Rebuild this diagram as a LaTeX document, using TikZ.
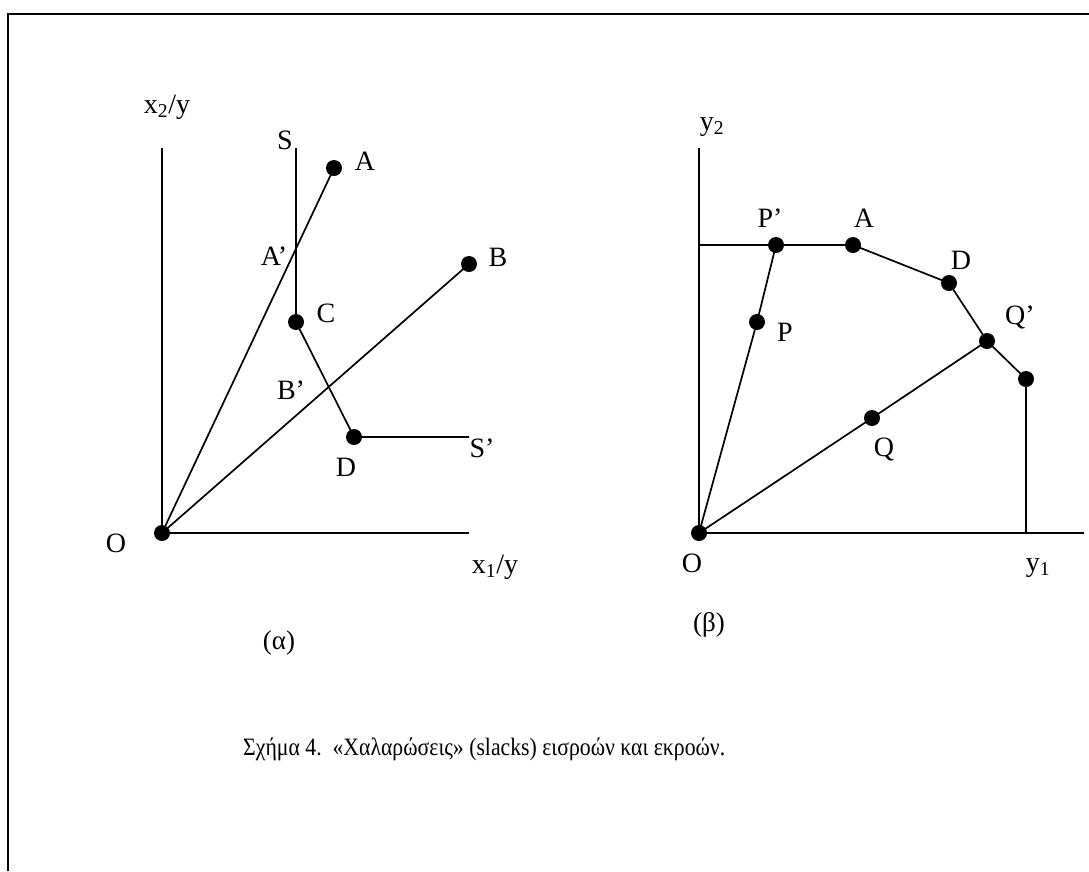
\documentclass[tikz,border=0pt]{standalone}
\usepackage{fontspec}
\usepackage{graphicx}
\setmainfont{Liberation Serif}
\begin{document}
\begin{tikzpicture}[x=1pt,y=-1pt,
  ln/.style={line width=1.7pt},
  dot/.style={circle,fill=black,inner sep=0pt,minimum size=16pt},
  lbl/.style={inner sep=0pt,font=\fontsize{28}{32}\selectfont},
  sublbl/.style={inner sep=0pt,font=\fontsize{27}{31}\selectfont},
  caplbl/.style={inner sep=0pt,font=\fontsize{25}{29}\selectfont}]
\useasboundingbox (0,0) rectangle (1089,871);
% frame (clipped)
\draw[line width=2pt] (8,871) -- (8,14) -- (1089,14);

% ---------- left panel (alpha) ----------
\node[dot] (O1) at (162,533) {};
\coordinate (Y1top) at (162,148);
\coordinate (X1end) at (469,533);
\node[dot] (A1) at (334,168) {};
\node[dot] (B1) at (469,264) {};
\node[dot] (C1) at (296,322) {};
\node[dot] (D1) at (354,437) {};
\coordinate (S1) at (296,148);
\coordinate (S1p) at (469,437);
\draw[ln] (Y1top) -- (O1.center) -- (X1end);
\draw[ln] (O1.center) -- (A1.center);
\draw[ln] (O1.center) -- (B1.center);
\draw[ln] (S1) -- (C1.center) -- (D1.center) -- (S1p);

\node[lbl] (l1) at (167,107) {x\textsubscript{2}/y};
\node[lbl] (l2) at (285,140) {S};
\node[lbl] (l3) at (365,161) {A};
\node[lbl] (l4) at (274,256) {A’};
\node[lbl] (l5) at (498,257) {B};
\node[lbl] (l6) at (326,313) {C};
\node[lbl] (l7) at (291,390) {B’};
\node[lbl] (l8) at (346,467) {D};
\node[lbl] (l9) at (482,448) {S’};
\node[lbl] (l10) at (116,543) {O};
\node[lbl] (l11) at (495,567) {x\textsubscript{1}/y};
\node[sublbl] (l12) at (279,643) {(α)};

% ---------- right panel (beta) ----------
\node[dot] (O2) at (699,533) {};
\coordinate (Y2top) at (699,148);
\coordinate (X2end) at (1084,533);
\coordinate (H2) at (699,245);
\node[dot] (Pp) at (776,245) {};
\node[dot] (A2) at (853,245) {};
\node[dot] (D2) at (949,283) {};
\node[dot] (Qp) at (987,341) {};
\node[dot] (E2) at (1026,379) {};
\coordinate (E2b) at (1026,533);
\node[dot] (P2) at (757,322) {};
\node[dot] (Q2) at (872,418) {};
\draw[ln] (Y2top) -- (O2.center) -- (X2end);
\draw[ln] (H2) -- (Pp.center) -- (A2.center) -- (D2.center) -- (Qp.center) -- (E2.center) -- (E2b);
\draw[ln] (O2.center) -- (P2.center) -- (Pp.center);
\draw[ln] (O2.center) -- (Q2.center) -- (Qp.center);

\node[lbl] (r1) at (712,127) {y\textsubscript{2}};
\node[lbl] (r2) at (770,218) {P’};
\node[lbl] (r3) at (864,218) {A};
\node[lbl] (r4) at (961,260) {D};
\node[lbl] (r5) at (1020,317) {Q’};
\node[lbl] (r6) at (785,332) {P};
\node[lbl] (r7) at (884,449) {Q};
\node[lbl] (r8) at (692,563) {O};
\node[lbl] (r9) at (1038,568) {y\textsubscript{1}};
\node[sublbl] (r10) at (709,625) {(β)};

% ---------- caption ----------
\node[caplbl,anchor=west] (cap) at (243,749) {\resizebox{482pt}{\height}{Σχήμα 4.\ \ «Χαλαρώσεις» (slacks) εισροών και εκροών.}};
\end{tikzpicture}
\end{document}
